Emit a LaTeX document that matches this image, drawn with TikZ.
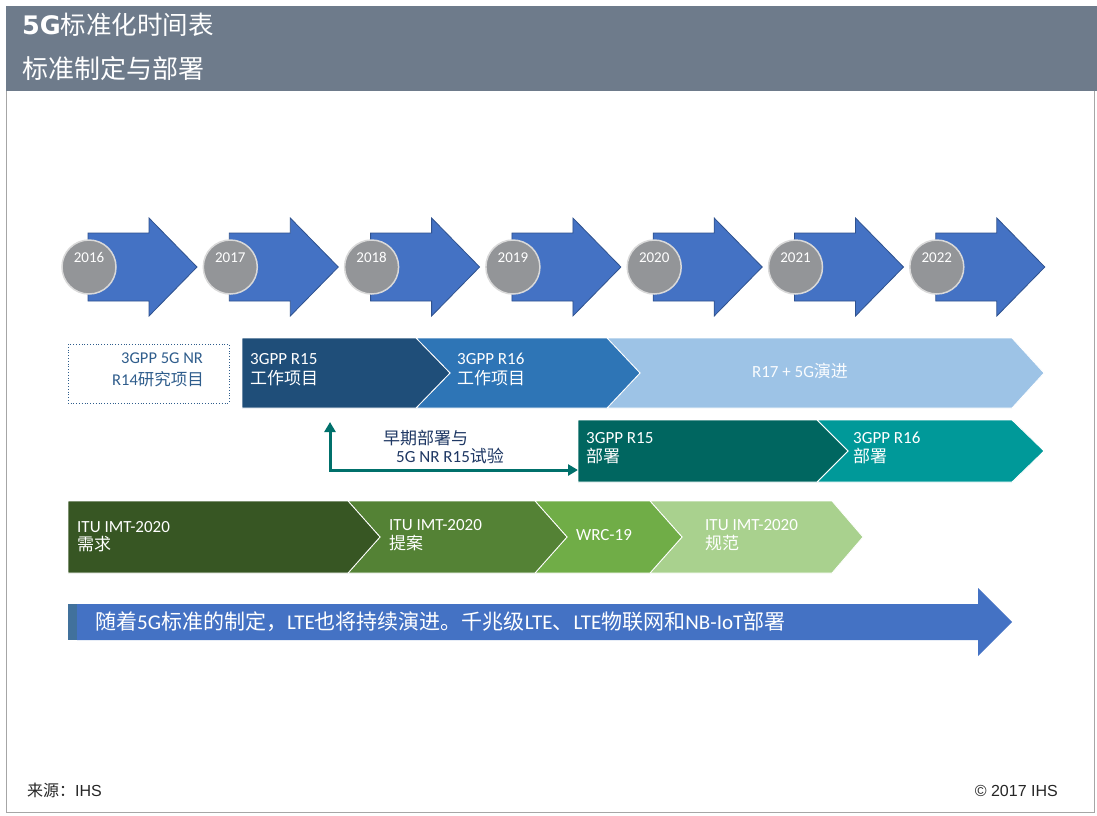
\documentclass[tikz,border=0pt]{standalone}
\usepackage{fontspec}
\setmainfont{Carlito}
\newfontfamily\cjk{Noto Sans CJK SC}
\newfontfamily\arialf{Liberation Sans}
\newfontfamily\verdf{DejaVu Sans}
\newcommand\zh[1]{{\cjk #1}}
\usetikzlibrary{arrows.meta}
\definecolor{hdr}{HTML}{6E7B8B}
\definecolor{framec}{HTML}{A6A6A6}
\definecolor{yblue}{HTML}{4472C4}
\definecolor{yborder}{HTML}{2F528F}
\definecolor{cgray}{HTML}{939598}
\definecolor{cring}{HTML}{D9D9D9}
\definecolor{rA}{HTML}{1F4E79}
\definecolor{rB}{HTML}{2E75B6}
\definecolor{rC}{HTML}{9DC3E6}
\definecolor{dA}{HTML}{006660}
\definecolor{dB}{HTML}{009999}
\definecolor{arrteal}{HTML}{00706B}
\definecolor{navy}{HTML}{1F3864}
\definecolor{gA}{HTML}{375623}
\definecolor{gB}{HTML}{548235}
\definecolor{gC}{HTML}{70AD47}
\definecolor{gD}{HTML}{A9D18E}
\definecolor{strip}{HTML}{41719C}
\definecolor{boxtext}{HTML}{2F5D8C}
\tikzset{
  lbl/.style={anchor=base west, inner sep=0pt, text=white, font=\fontsize{17}{19}\selectfont},
  yr/.style={anchor=base, inner sep=0pt, text=white, font=\fontsize{15}{17}\selectfont},
  chev/.style={draw=white, line width=0.8pt},
}
\begin{document}
\begin{tikzpicture}[x=1pt,y=-1pt]
\useasboundingbox (0,0) rectangle (1097,815);
\fill[white] (0,0) rectangle (1097,815);
% header
\fill[hdr] (6,6) rectangle (1097,91);
\draw[framec, line width=1pt] (6,91) -- (6,812) -- (1094,812) -- (1094,91);
\node[anchor=base west, inner sep=0pt, text=white, font=\fontsize{25.5}{28}\selectfont] (title) at (22,34) {{\verdf\bfseries 5G}\zh{标准化时间表}};
\node[anchor=base west, inner sep=0pt, text=white, font=\fontsize{26}{28}\selectfont] (subtitle) at (22,78) {\zh{标准制定与部署}};

% year arrows
\foreach \i/\yr in {0/2016,1/2017,2/2018,3/2019,4/2020,5/2021,6/2022}{
  \pgfmathsetmacro\bx{88+141.3*\i}
  \draw[fill=yblue, draw=yborder, line width=0.8pt]
    (\bx,233) -- (\bx+61,233) -- (\bx+61,218) -- (\bx+109,267) -- (\bx+61,316) -- (\bx+61,301) -- (\bx,301) -- cycle;
  \node[circle, fill=cgray, draw=cring, line width=1.5pt, minimum size=54pt, inner sep=0pt] (c\yr) at (\bx+1,267) {};
  \node[yr] (t\yr) at (\bx+1,262.5) {\yr};
}

% row 1
\draw[boxtext, dotted, line width=0.8pt] (68,344) rectangle (229,403);
\node[anchor=base west, inner sep=0pt, text=boxtext, font=\fontsize{16.5}{18}\selectfont] (r14a) at (121,363) {3GPP 5G NR};
\node[anchor=base west, inner sep=0pt, text=boxtext, font=\fontsize{16.5}{18}\selectfont] (r14b) at (112,385) {R14\zh{研究项目}};

\fill[rC, chev] (607,338) -- (1012,338) -- (1044,373) -- (1012,408) -- (607,408) -- (640,373) -- cycle;
\fill[rB, chev] (416,338) -- (607,338) -- (640,373) -- (607,408) -- (416,408) -- (450,373) -- cycle;
\fill[rA, chev] (242,338) -- (416,338) -- (450,373) -- (416,408) -- (242,408) -- cycle;
\node[lbl] (r15a) at (250,364) {3GPP R15};
\node[lbl] (r15b) at (250,384) {\zh{工作项目}};
\node[lbl] (r16a) at (457,364) {3GPP R16};
\node[lbl] (r16b) at (457,384) {\zh{工作项目}};
\node[anchor=base, inner sep=0pt, text=white!95!rC, font=\fontsize{17}{19}\selectfont] (r17) at (800,377) {R17 + 5G\zh{演进}};

% early deployment arrow
\coordinate (eTop) at (330,422);
\coordinate (eEnd) at (578,470);
\draw[arrteal, line width=3pt, {Triangle[length=10pt,width=11pt]}-{Triangle[length=10pt,width=11pt]}] (eTop) |- (eEnd);
\node[anchor=base west, inner sep=0pt, text=navy, font=\fontsize{17}{19}\selectfont] (ea) at (383,444) {\zh{早期部署与}};
\node[anchor=base west, inner sep=0pt, text=navy, font=\fontsize{17}{19}\selectfont] (eb) at (396,462) {5G NR R15\zh{试验}};

% row 2
\fill[dB, chev] (817,420) -- (1012,420) -- (1044,451) -- (1012,482) -- (817,482) -- (848,451) -- cycle;
\fill[dA, chev] (578,420) -- (817,420) -- (848,451) -- (817,482) -- (578,482) -- cycle;
\node[lbl] (d15a) at (586,443) {3GPP R15};
\node[lbl] (d15b) at (586,462) {\zh{部署}};
\node[lbl] (d16a) at (853,443) {3GPP R16};
\node[lbl] (d16b) at (853,462) {\zh{部署}};

% row 3
\fill[gD, chev] (650,501) -- (832,501) -- (863,537) -- (832,573) -- (650,573) -- (682,537) -- cycle;
\fill[gC, chev] (535,501) -- (650,501) -- (682,537) -- (650,573) -- (535,573) -- (567,537) -- cycle;
\fill[gB, chev] (348,501) -- (535,501) -- (567,537) -- (535,573) -- (348,573) -- (380,537) -- cycle;
\fill[gA, chev] (68,501) -- (348,501) -- (380,537) -- (348,573) -- (68,573) -- cycle;
\node[lbl] (g1a) at (77,532) {ITU IMT-2020};
\node[lbl] (g1b) at (77,550) {\zh{需求}};
\node[lbl] (g2a) at (389,530) {ITU IMT-2020};
\node[lbl] (g2b) at (389,549) {\zh{提案}};
\node[lbl] (g3a) at (576,540) {WRC-19};
\node[lbl] (g4a) at (705,530) {ITU IMT-2020};
\node[lbl] (g4b) at (705,549) {\zh{规范}};

% row 4
\fill[strip] (68,604) rectangle (77,640);
\fill[yblue] (77,604) -- (978,604) -- (978,588) -- (1012,622) -- (978,656) -- (978,640) -- (77,640) -- cycle;
\node[anchor=base west, inner sep=0pt, text=white, font=\fontsize{21}{23}\selectfont] (lte) at (95,629)
  {\zh{随着}5G\zh{标准的制定，}LTE\zh{也将持续演进。千兆级}LTE\zh{、}LTE\zh{物联网和}NB-IoT\zh{部署}};

% footer
\node[anchor=base west, inner sep=0pt, text=black!85, font=\fontsize{16}{18}\selectfont] (src) at (27,796) {\zh{来源：}{\arialf IHS}};
\node[anchor=base east, inner sep=0pt, text=black!85, font=\arialf\fontsize{16}{18}\selectfont] (copy) at (1058,796) {© 2017 IHS};
\end{tikzpicture}
\end{document}
